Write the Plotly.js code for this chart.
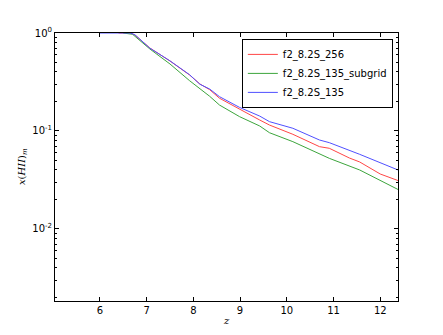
<!DOCTYPE html>
<html>
<head>
<meta charset="utf-8">
<script src="https://cdn.plot.ly/plotly-3.0.1.min.js"></script>
<style>
  body { margin: 0; padding: 0; background: #fff; }
  #chart { width: 443px; height: 335px; }
</style>
</head>
<body>
<div id="chart"></div>
<script>
'use strict'
// redshift samples, one list per run
var z256 = [6.4, 6.65, 6.75, 7.07, 7.5, 7.92, 8.14, 8.35, 8.56, 8.99, 9.42, 9.63, 10.13, 10.7, 10.91, 11.34, 11.56, 12.0, 12.38];
var x256 = [1.0, 1.0, 0.954, 0.703, 0.518, 0.373, 0.302, 0.264, 0.216, 0.166, 0.1295, 0.115, 0.0925, 0.0692, 0.0666, 0.053, 0.0483, 0.0364, 0.0312];

var zSub = [6.5, 6.7, 7.07, 7.5, 7.92, 8.14, 8.35, 8.56, 8.99, 9.42, 9.63, 10.13, 10.7, 10.91, 11.56, 12.0, 12.38];
var xSub = [1.0, 0.97, 0.687, 0.483, 0.326, 0.273, 0.226, 0.184, 0.140, 0.1125, 0.096, 0.0778, 0.0578, 0.0526, 0.040, 0.031, 0.0253];

var z135 = [6.0, 6.65, 6.75, 7.07, 7.5, 7.92, 8.14, 8.35, 8.56, 8.99, 9.42, 9.63, 10.13, 10.7, 10.91, 11.56, 12.38];
var x135 = [1.0, 1.0, 0.96, 0.70, 0.52, 0.375, 0.30, 0.268, 0.224, 0.174, 0.142, 0.1245, 0.1066, 0.0809, 0.076, 0.0578, 0.0400];

var names = ['f2_8.2S_256', 'f2_8.2S_135_subgrid', 'f2_8.2S_135'];
var yTickVals = [1, 0.1, 0.01];
var yTickText = ['10<sup>0</sup>', '10<sup>-1</sup>', '10<sup>-2</sup>'];
var xTickVals = [6, 7, 8, 9, 10, 11, 12];

function makeTrace(x, y, name, color){
  return {
    type: 'scatter',
    mode: 'lines',
    name: name,
    x: x,
    y: y,
    line: {color: color, width: 1, shape: 'linear'}
  };
}

var graphData = [
  makeTrace(z256, x256, names[0], 'rgb(255,70,70)'),
  makeTrace(zSub, xSub, names[1], 'rgb(60,165,60)'),
  makeTrace(z135, x135, names[2], 'rgb(80,80,255)')
];

var layout = {
  width: 443,
  height: 335,
  margin: {l: 55, r: 45, t: 33, b: 34, pad: 0},
  paper_bgcolor: '#fff',
  plot_bgcolor: '#fff',
  font: {family: 'DejaVu Sans', size: 10, color: '#000'},
  showlegend: true,
  xaxis: {
    range: [5.04, 12.38],
    tickvals: xTickVals,
    ticks: 'inside',
    ticklen: 4,
    tickcolor: '#000',
    showline: true,
    linecolor: '#000',
    linewidth: 1,
    mirror: 'ticks',
    showgrid: false,
    zeroline: false,
    tickfont: {family: 'DejaVu Sans', size: 10}
  },
  yaxis: {
    type: 'log',
    range: [-2.735, 0],
    tickvals: yTickVals,
    ticktext: yTickText,
    ticks: 'inside',
    ticklen: 4,
    tickcolor: '#000',
    minor: {ticks: 'inside', ticklen: 2, tickcolor: '#000', dtick: 'D1', showgrid: false},
    showline: true,
    linecolor: '#000',
    linewidth: 1,
    mirror: 'ticks',
    showgrid: false,
    zeroline: false,
    tickfont: {family: 'DejaVu Sans', size: 10}
  },
  // axis titles placed as annotations so they sit where matplotlib put them
  annotations: [{
    text: '<i>x</i>(<i>HII</i>)<sub><i>m</i></sub>',
    xref: 'paper', yref: 'paper',
    x: -0.096, y: 0.5,
    xanchor: 'center', yanchor: 'middle',
    textangle: -90,
    showarrow: false,
    font: {family: 'DejaVu Serif', size: 10}
  }, {
    text: '<i>z</i>',
    xref: 'paper', yref: 'paper',
    x: 0.5, y: -0.071,
    xanchor: 'center', yanchor: 'middle',
    showarrow: false,
    font: {family: 'DejaVu Serif', size: 10}
  }],
  legend: {
    x: 0.985,
    y: 0.978,
    xanchor: 'right',
    yanchor: 'top',
    bgcolor: '#fff',
    bordercolor: '#000',
    borderwidth: 1,
    font: {family: 'DejaVu Sans', size: 10},
    tracegroupgap: 0,
    itemwidth: 30
  }
};

Plotly.newPlot('chart', graphData, layout, {displayModeBar: false, staticPlot: true});
</script>
</body>
</html>
